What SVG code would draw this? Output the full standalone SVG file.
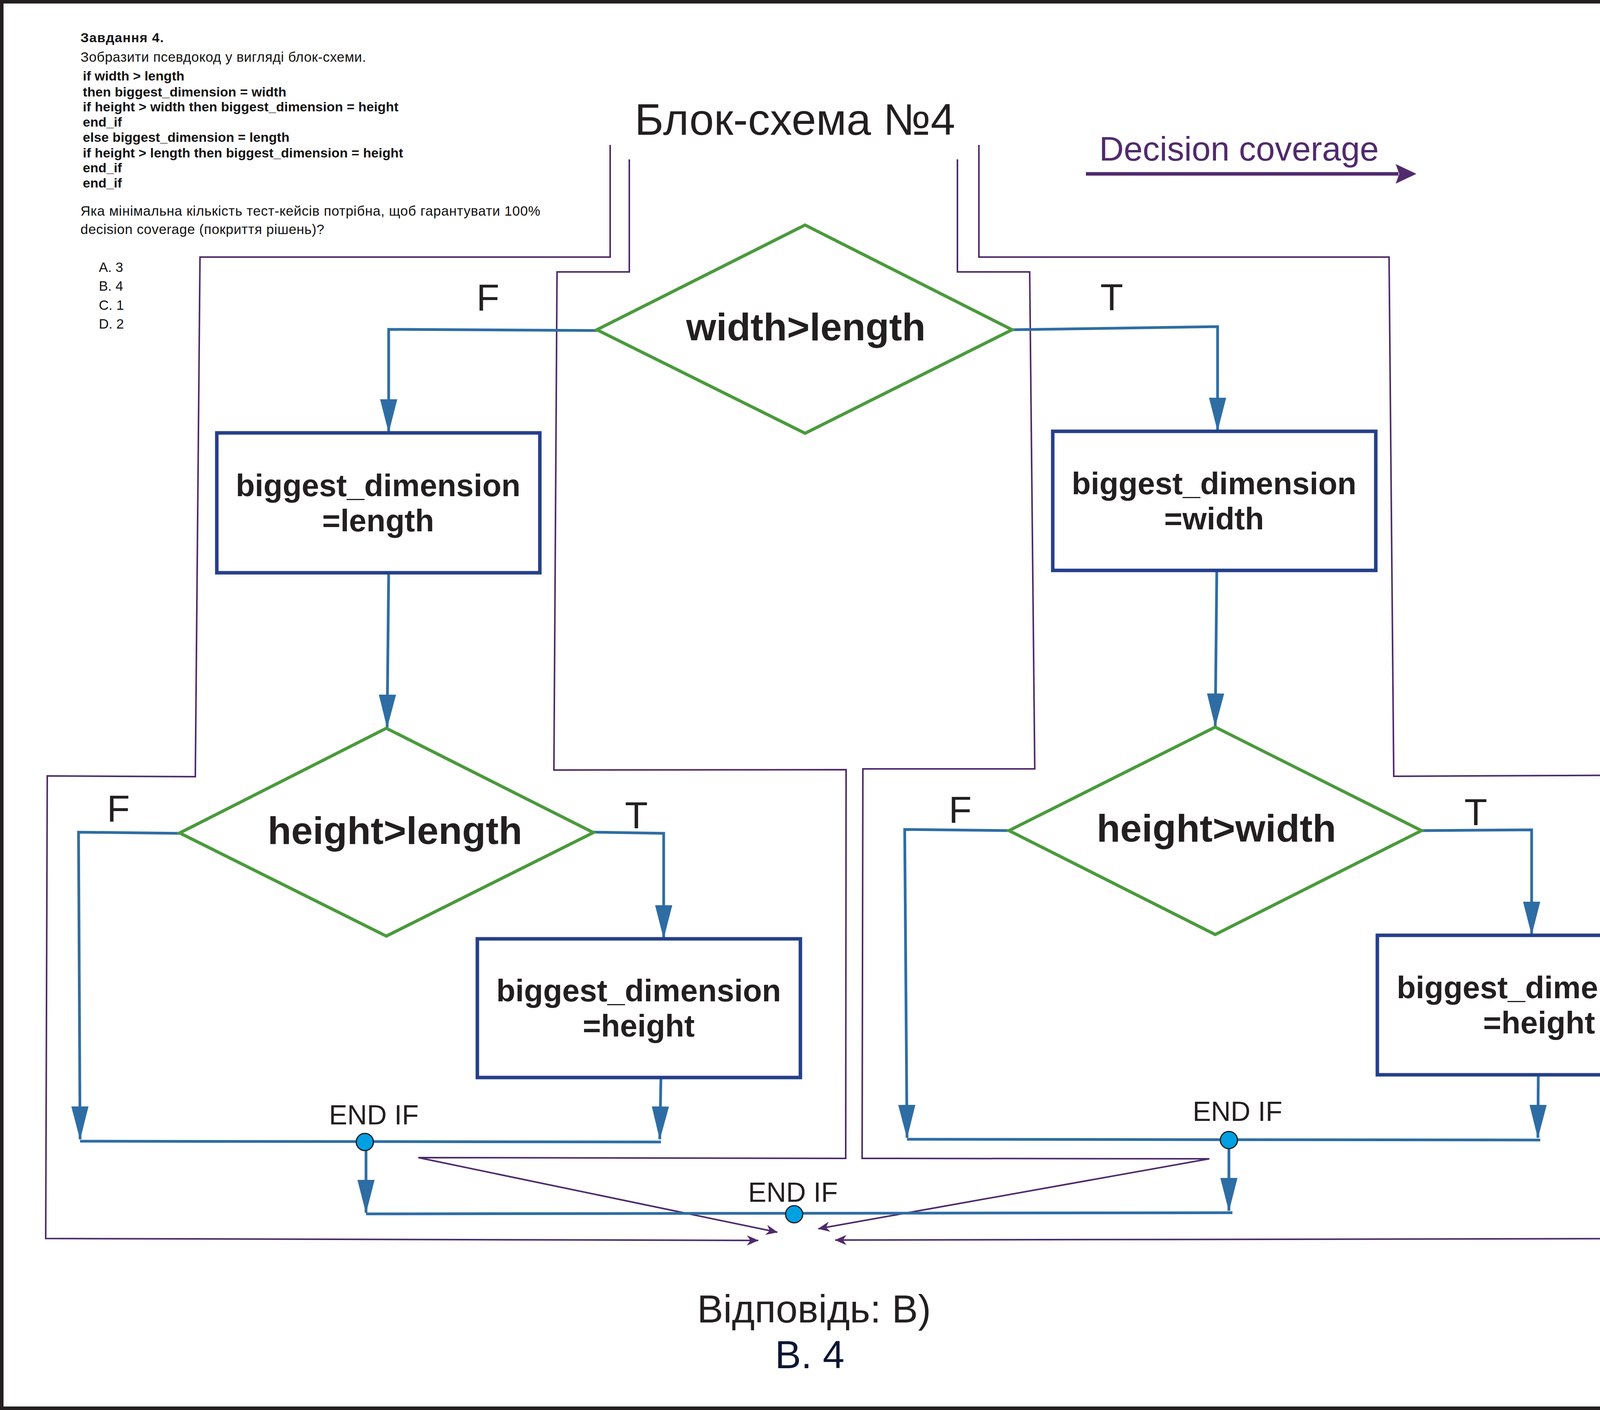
<svg xmlns="http://www.w3.org/2000/svg" width="4535" height="3609" viewBox="0 0 4535 3609">
<defs>
<style>
.t{font-family:"Liberation Sans",Arial,sans-serif;fill:#231f20;}
.b{font-weight:bold;}
.q{font-family:"Liberation Sans",Arial,sans-serif;fill:#111;}
.dia{fill:none;stroke:#4a9a3c;stroke-width:8;stroke-linejoin:miter;}
.box{fill:#fff;stroke:#263f8a;stroke-width:9;}
.flow{fill:none;stroke:#2e6da4;stroke-width:7;}
.dc{fill:none;stroke:#4e2a6a;stroke-width:4;}
.node{fill:#00a0e3;stroke:#1b1b1b;stroke-width:3;}
</style>
<marker id="ab" markerUnits="userSpaceOnUse" viewBox="0 0 86 46" markerWidth="86" markerHeight="46" refX="84" refY="23" orient="auto">
<path d="M0,1 L86,23 L0,45 Z" fill="#2e6da4"/>
</marker>
<marker id="ap" markerUnits="userSpaceOnUse" viewBox="0 0 30 26" markerWidth="30" markerHeight="26" refX="29" refY="13" orient="auto">
<path d="M0,0 L30,13 L0,26 L9,13 Z" fill="#4e2a6a"/>
</marker>
</defs>
<rect x="0" y="0" width="4535" height="3609" fill="#fff"/>
<rect x="4.5" y="4.5" width="4526" height="3600" fill="none" stroke="#231f20" stroke-width="9"/>

<g id="task-text">
<text class="q b" x="206" y="108" font-size="34" textLength="213">Завдання 4.</text>
<text class="q" x="206" y="158" font-size="35" textLength="731">Зобразити псевдокод у вигляді блок-схеми.</text>
<g class="q b" font-size="34">
<text x="212" y="206" textLength="260">if width &gt; length</text>
<text x="212" y="247" textLength="521">then biggest_dimension = width</text>
<text x="212" y="285" textLength="808">if height &gt; width then biggest_dimension = height</text>
<text x="212" y="324">end_if</text>
<text x="212" y="363" textLength="529">else biggest_dimension = length</text>
<text x="212" y="403" textLength="820">if height &gt; length then biggest_dimension = height</text>
<text x="212" y="441">end_if</text>
<text x="212" y="480">end_if</text>
</g>
<text class="q" x="206" y="552" font-size="35" textLength="1177">Яка мінімальна кількість тест-кейсів потрібна, щоб гарантувати 100%</text>
<text class="q" x="206" y="599" font-size="35" textLength="624">decision coverage (покриття рішень)?</text>
<g class="q" font-size="35">
<text x="253" y="696">A. 3</text>
<text x="253" y="744">B. 4</text>
<text x="253" y="793">C. 1</text>
<text x="253" y="841">D. 2</text>
</g>
</g>

<g id="title">
<text class="t" x="2035" y="345" font-size="113" text-anchor="middle">Блок-схема №4</text>
</g>

<g id="legend">
<text x="2814" y="411" font-size="87" font-family="Liberation Sans, Arial, sans-serif" fill="#512a6e">Decision coverage</text>
<line x1="2780" y1="445" x2="3580" y2="445" stroke="#512a6e" stroke-width="9"/>
<path d="M3573,420 L3626,445 L3573,470 L3582,445 Z" fill="#512a6e"/>
</g>

<g id="connectors">
<g id="coverage-paths">
<path class="dc" marker-end="url(#ap)" d="M1562,371 L1562,658 L512,658 L500,1988 L121,1986 L117,3170 L1941,3175"/>
<path class="dc" marker-end="url(#ap)" d="M1611,408 L1611,696 L1426,696 L1418,1971 L2166,1970 L2165,2965 L1071,2963 L1990,3154"/>
<path class="dc" marker-end="url(#ap)" d="M2451,408 L2451,696 L2636,696 L2649,1968 L2209,1968 L2207,2965 L3096,2966 L2095,3145"/>
<path class="dc" marker-end="url(#ap)" d="M2506,371 L2506,658 L3556,658 L3568,1987 L4409,1983 L4409,3170 L2138,3174"/>
</g>
<g id="flow">
<path class="flow" marker-end="url(#ab)" d="M1528,846 L995,843 L995,1106"/>
<path class="flow" marker-end="url(#ab)" d="M2591,844 L3117,836 L3117,1102"/>
<path class="flow" marker-end="url(#ab)" d="M995,1466 L991,1862"/>
<path class="flow" marker-end="url(#ab)" d="M3115,1460 L3111,1859"/>
<path class="flow" marker-end="url(#ab)" d="M460,2133 L201,2130 L205,2916"/>
<path class="flow" marker-end="url(#ab)" d="M1519,2130 L1699,2133 L1699,2401"/>
<path class="flow" marker-end="url(#ab)" d="M1692,2758 L1689,2916"/>
<path class="flow" d="M205,2921 L1692,2923"/>
<path class="flow" marker-end="url(#ab)" d="M937,2943 L937,3104"/>
<path class="flow" d="M937,3107 L3155,3104"/>
<path class="flow" marker-end="url(#ab)" d="M2583,2126 L2316,2123 L2322,2912"/>
<path class="flow" marker-end="url(#ab)" d="M3639,2126 L3921,2124 L3921,2392"/>
<path class="flow" marker-end="url(#ab)" d="M3938,2751 L3937,2912"/>
<path class="flow" d="M2322,2916 L3943,2918"/>
<path class="flow" marker-end="url(#ab)" d="M3146,2938 L3146,3099"/>
</g>
</g>

<g id="decision-1">
<polygon class="dia" points="2061,576 2591,844 2061,1109 1528,844"/>
<text class="t b" x="2063" y="871" font-size="99" text-anchor="middle">width&gt;length</text>
</g>
<g id="label-f1"><text class="t" x="1249" y="795" font-size="96" text-anchor="middle">F</text></g>
<g id="label-t1"><text class="t" x="2846" y="794" font-size="96" text-anchor="middle">T</text></g>

<g id="box-length">
<rect class="box" x="555" y="1108" width="827" height="358"/>
<text class="t b" x="968" y="1270" font-size="80" text-anchor="middle">biggest_dimension</text>
<text class="t b" x="968" y="1360" font-size="80" text-anchor="middle">=length</text>
</g>

<g id="box-width">
<rect class="box" x="2695" y="1104" width="827" height="356"/>
<text class="t b" x="3108" y="1265" font-size="80" text-anchor="middle">biggest_dimension</text>
<text class="t b" x="3108" y="1355" font-size="80" text-anchor="middle">=width</text>
</g>

<g id="decision-2">
<polygon class="dia" points="989,1864 1519,2131 989,2396 460,2132"/>
<text class="t b" x="1011" y="2160" font-size="99" text-anchor="middle">height&gt;length</text>
</g>
<g id="label-f2"><text class="t" x="303" y="2103" font-size="96" text-anchor="middle">F</text></g>
<g id="label-t2"><text class="t" x="1629" y="2120" font-size="96" text-anchor="middle">T</text></g>

<g id="decision-3">
<polygon class="dia" points="3111,1861 3639,2126 3111,2392 2583,2126"/>
<text class="t b" x="3114" y="2154" font-size="99" text-anchor="middle">height&gt;width</text>
</g>
<g id="label-f3"><text class="t" x="2458" y="2106" font-size="96" text-anchor="middle">F</text></g>
<g id="label-t3"><text class="t" x="3778" y="2112" font-size="96" text-anchor="middle">T</text></g>

<g id="box-height-left">
<rect class="box" x="1222" y="2403" width="827" height="355"/>
<text class="t b" x="1635" y="2563" font-size="80" text-anchor="middle">biggest_dimension</text>
<text class="t b" x="1635" y="2653" font-size="80" text-anchor="middle">=height</text>
</g>

<g id="box-height-right">
<rect class="box" x="3526" y="2394" width="827" height="357"/>
<text class="t b" x="3940" y="2555" font-size="80" text-anchor="middle">biggest_dimension</text>
<text class="t b" x="3940" y="2645" font-size="80" text-anchor="middle">=height</text>
</g>

<g id="endif-left">
<circle class="node" cx="934" cy="2923" r="22"/>
<text class="t" x="957" y="2878" font-size="70" text-anchor="middle">END IF</text>
</g>
<g id="endif-right">
<circle class="node" cx="3146" cy="2918" r="22"/>
<text class="t" x="3168" y="2869" font-size="70" text-anchor="middle">END IF</text>
</g>
<g id="endif-main">
<circle class="node" cx="2033" cy="3108" r="22"/>
<text class="t" x="2030" y="3076" font-size="70" text-anchor="middle">END IF</text>
</g>

<g id="answer">
<text class="t" x="2084" y="3385" font-size="100" text-anchor="middle">Відповідь: B)</text>
<text x="2073" y="3502" font-size="100" text-anchor="middle" font-family="Liberation Sans, Arial, sans-serif" fill="#0c1633">B. 4</text>
</g>
</svg>
